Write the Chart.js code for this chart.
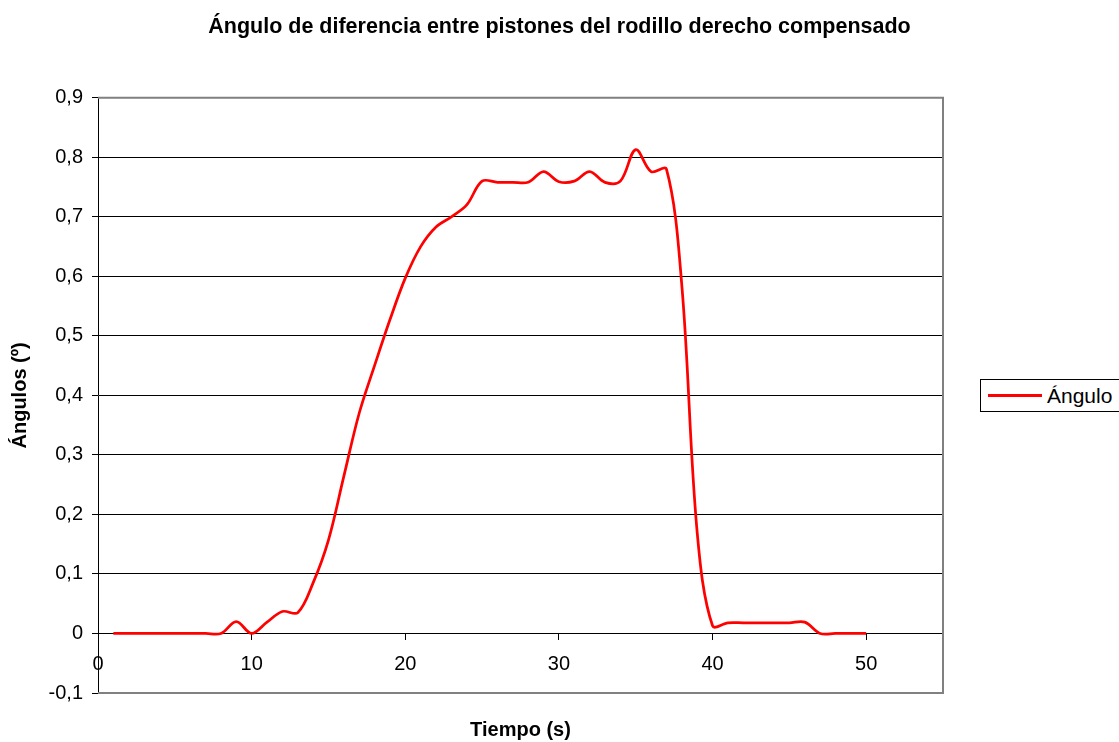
<!DOCTYPE html>
<html lang="es">
<head>
<meta charset="utf-8">
<script src="https://cdn.jsdelivr.net/npm/chart.js@4.4.1/dist/chart.umd.min.js"></script>
<style>
  html, body { margin: 0; padding: 0; background: #fff; overflow: hidden; }
  #wrap { position: relative; width: 1119px; height: 742px; }
  #leyenda {
    position: absolute; left: 980px; top: 379px; width: 150px; height: 33px;
    border: 1px solid #000; background: #fff; box-sizing: border-box;
    font: 21px "Liberation Sans", Arial, sans-serif; color: #000;
    display: flex; align-items: center;
  }
  #leyenda .linea { display: inline-block; width: 54px; height: 2.5px; background: #ff0000; margin: 0 5px 0 7px; }
</style>
</head>
<body>
<div id="wrap">
  <canvas id="grafico" width="1119" height="742"></canvas>
  <div id="leyenda"><span class="linea"></span><span>Ángulo</span></div>
</div>
<script>
// tiempo (s) y ángulo de diferencia (º)
const tiempo = [1, 2, 3, 4, 5, 6, 7, 8, 9, 10,
  11, 12, 13, 14, 15, 16, 17, 18, 19, 20,
  21, 22, 23, 24, 25, 26, 27, 28, 29, 30,
  31, 32, 33, 34, 35, 36, 37, 38, 39, 40,
  41, 42, 43, 44, 45, 46, 47, 48, 49, 50];
const angulo = [0, 0, 0, 0, 0, 0, 0, 0, 0.02, 0,
  0.019, 0.037, 0.035, 0.085, 0.157, 0.264, 0.37, 0.45, 0.527, 0.597,
  0.65, 0.683, 0.70, 0.72, 0.76, 0.758, 0.758, 0.758, 0.776, 0.759,
  0.76, 0.776, 0.758, 0.76, 0.813, 0.776, 0.78, 0.585, 0.17, 0.013,
  0.018, 0.018, 0.018, 0.018, 0.018, 0.019, 0, 0, 0, 0];

const rangoX = [0, 55];
const rangoY = [-0.1, 0.9];
const FUENTE = '"Liberation Sans", Arial, sans-serif';

// marco gris del área de trazado (arriba, derecha, abajo); el eje Y queda en negro
const marco = {
  id: 'marco',
  afterDraw(chart) {
    const { ctx, chartArea: a } = chart;
    ctx.save();
    ctx.strokeStyle = '#808080';
    ctx.lineWidth = 2;
    ctx.beginPath();
    ctx.moveTo(a.left, a.top);
    ctx.lineTo(a.right, a.top);
    ctx.lineTo(a.right, a.bottom);
    ctx.lineTo(a.left, a.bottom);
    ctx.stroke();
    ctx.restore();
  }
};

const coma = v => Math.abs(v) < 1e-9 ? '0' : v.toFixed(1).replace('.', ',');

new Chart(document.getElementById('grafico'), {
  type: 'scatter',
  data: {
    datasets: [{
      label: 'Ángulo',
      data: tiempo.map((t, i) => ({ x: t, y: angulo[i] })),
      showLine: true,
      borderColor: '#ff0000',
      borderWidth: 2.75,
      tension: 0.35,
      pointRadius: 0,
      fill: false
    }]
  },
  options: {
    responsive: false,
    animation: false,
    plugins: {
      legend: { display: false },
      tooltip: { enabled: false },
      title: {
        display: true,
        text: 'Ángulo de diferencia entre pistones del rodillo derecho compensado',
        color: '#000',
        font: { family: FUENTE, size: 21.5, weight: 'bold' },
        padding: { top: 14, bottom: 58 }
      }
    },
    scales: {
      x: {
        type: 'linear',
        position: { y: 0 },
        min: rangoX[0], max: rangoX[1],
        afterBuildTicks: s => { s.ticks = s.ticks.filter(t => t.value % 10 === 0); },
        ticks: { stepSize: 10, color: '#000', padding: 13, maxRotation: 0,
                 font: { family: FUENTE, size: 20 } },
        grid: { drawOnChartArea: false, drawTicks: true, tickLength: 6, color: '#000' },
        border: { color: '#000', width: 1 }
      },
      xt: {
        type: 'linear',
        position: 'bottom',
        min: rangoX[0], max: rangoX[1],
        ticks: { display: false },
        grid: { display: false, drawTicks: false },
        border: { display: false },
        title: {
          display: true, text: 'Tiempo (s)', color: '#000',
          font: { family: FUENTE, size: 20, weight: 'bold' },
          padding: { top: 25, bottom: 0 }
        }
      },
      y: {
        type: 'linear',
        position: 'left',
        min: rangoY[0], max: rangoY[1],
        afterFit: s => { s.width = 98; },
        ticks: { stepSize: 0.1, color: '#000', padding: 9, callback: coma,
                 font: { family: FUENTE, size: 20 } },
        grid: { color: '#000', lineWidth: 1, tickLength: 6 },
        border: { color: '#000', width: 1 },
        title: {
          display: true, text: 'Ángulos (º)', color: '#000',
          font: { family: FUENTE, size: 20, weight: 'bold' },
          padding: { top: 8, bottom: 0 }
        }
      },
      // espacio a la derecha reservado para la leyenda
      yr: {
        type: 'linear',
        position: 'right',
        min: rangoY[0], max: rangoY[1],
        afterFit: s => { s.width = 176; },
        ticks: { display: false },
        grid: { display: false, drawTicks: false },
        border: { display: false }
      }
    }
  },
  plugins: [marco]
});
</script>
</body>
</html>
